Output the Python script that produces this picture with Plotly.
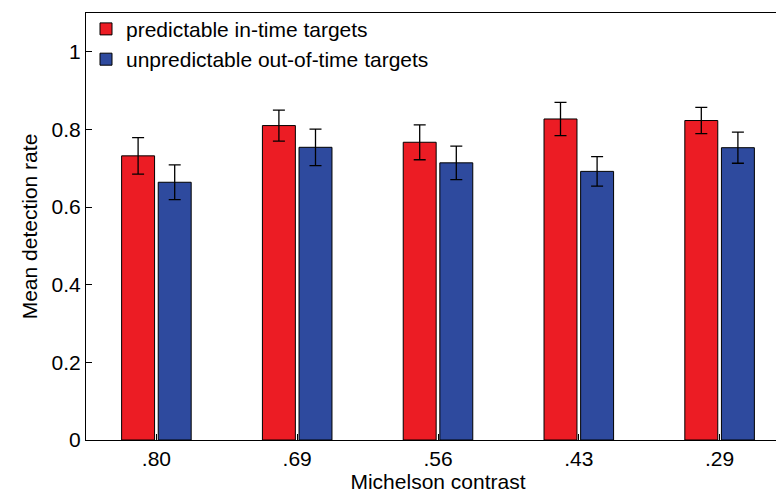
import plotly.graph_objects as go

contrasts = [".80", ".69", ".56", ".43", ".29"]
predictable = [0.732, 0.810, 0.767, 0.827, 0.823]
predictable_err = [0.047, 0.040, 0.045, 0.043, 0.034]
unpredictable = [0.664, 0.754, 0.714, 0.692, 0.753]
unpredictable_err = [0.045, 0.047, 0.043, 0.038, 0.040]

fig = go.Figure()
fig.add_bar(x=contrasts, y=predictable, name="predictable in-time targets",
            marker=dict(color="#ec1c24", line=dict(color="black", width=1)),
            error_y=dict(type="data", array=predictable_err, color="black", thickness=1.3, width=6))
fig.add_bar(x=contrasts, y=unpredictable, name="unpredictable out-of-time targets",
            marker=dict(color="#2e4a9e", line=dict(color="black", width=1)),
            error_y=dict(type="data", array=unpredictable_err, color="black", thickness=1.3, width=6))

fig.update_layout(
    width=784, height=494,
    margin=dict(l=78, r=2, t=1, b=62),
    plot_bgcolor="white", paper_bgcolor="white",
    font=dict(family="Liberation Sans, Arial", size=21, color="black"),
    barmode="group", bargap=0.48, bargroupgap=0.1,
    legend=dict(x=0.0, y=1.01, xanchor="left", yanchor="top",
                bgcolor="rgba(255,255,255,0)", font=dict(size=21),
                tracegroupgap=0, itemwidth=30),
)
fig.update_xaxes(title=dict(text="Michelson contrast", standoff=0, font=dict(size=21)),
                 tickfont=dict(size=21),
                 showline=True, linecolor="black", mirror=True,
                 ticks="inside", ticklen=6, tickcolor="black")
fig.update_yaxes(title=dict(text="Mean detection rate", standoff=8, font=dict(size=21)),
                 tickfont=dict(size=21),
                 range=[0, 1.1], tickvals=[0, 0.2, 0.4, 0.6, 0.8, 1],
                 ticktext=["0", "0.2", "0.4", "0.6", "0.8", "1"],
                 showline=True, linecolor="black", mirror=True,
                 ticks="inside", ticklen=6, tickcolor="black", showgrid=False, zeroline=False)

fig.write_html("out.html")
